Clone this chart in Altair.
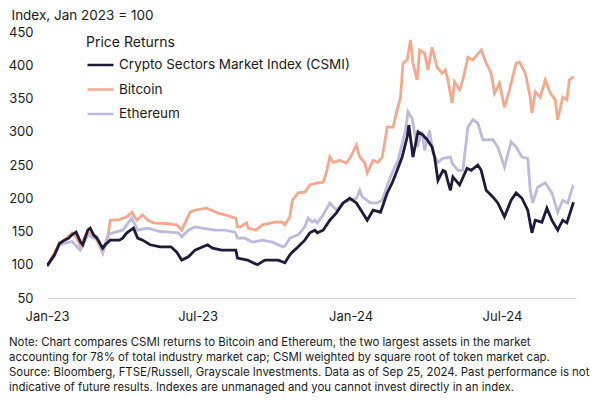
import altair as alt
import pandas as pd

# ---------------- data ----------------
csmi_dates = ["2023-01-01","2023-01-02","2023-01-10","2023-01-16","2023-01-22","2023-01-27","2023-01-31","2023-02-05",
    "2023-02-10","2023-02-13","2023-02-19","2023-02-22","2023-02-26","2023-03-02","2023-03-09","2023-03-12","2023-03-18",
    "2023-03-29","2023-04-02","2023-04-07","2023-04-15","2023-04-20","2023-04-26","2023-05-05","2023-05-17","2023-05-30",
    "2023-06-06","2023-06-12","2023-06-20","2023-06-28","2023-07-13","2023-07-19","2023-07-30","2023-08-11","2023-08-16",
    "2023-08-18","2023-08-30","2023-09-11","2023-09-20","2023-09-29","2023-10-06","2023-10-14","2023-10-20","2023-10-23",
    "2023-10-30","2023-11-07","2023-11-13","2023-11-19","2023-11-22","2023-11-29","2023-12-07","2023-12-15","2023-12-23",
    "2023-12-31","2024-01-08","2024-01-15","2024-01-21","2024-01-28","2024-02-06","2024-02-14","2024-02-20","2024-02-26",
    "2024-03-03","2024-03-09","2024-03-11","2024-03-16","2024-03-22","2024-03-28","2024-04-02","2024-04-08","2024-04-11",
    "2024-04-15","2024-04-21","2024-04-24","2024-04-27","2024-04-30","2024-05-03","2024-05-11","2024-05-20","2024-05-25",
    "2024-06-02","2024-06-06","2024-06-12","2024-06-20","2024-06-26","2024-07-04","2024-07-12","2024-07-18","2024-07-25",
    "2024-08-01","2024-08-06","2024-08-10","2024-08-18","2024-08-24","2024-08-30","2024-09-06","2024-09-12","2024-09-17",
    "2024-09-25"]
csmi_values = [100,100,115,132,137,140,145,149,
    135,130,152,155,145,140,125,130,137,
    137,140,148,155,140,137,130,127,127,
    119,107,112,122,130,125,122,122,122,
    110,107,100,107,107,107,103,115,119,
    127,137,148,152,148,152,167,178,193,
    200,193,179,167,182,179,208,223,242,
    262,292,310,262,300,295,288,277,262,
    227,242,240,225,212,232,220,245,242,
    250,242,212,202,193,172,197,208,200,
    182,148,167,164,185,167,152,167,163,
    194]

btc_dates = ["2023-01-01","2023-01-02","2023-01-10","2023-01-16","2023-01-22","2023-01-31","2023-02-05","2023-02-10",
    "2023-02-19","2023-03-02","2023-03-09","2023-03-15","2023-03-18","2023-03-29","2023-04-07","2023-04-13","2023-04-19",
    "2023-04-26","2023-05-02","2023-05-09","2023-05-23","2023-06-06","2023-06-12","2023-06-22","2023-06-28","2023-07-12",
    "2023-07-25","2023-08-03","2023-08-11","2023-08-16","2023-08-18","2023-08-21","2023-08-29","2023-08-31","2023-09-09",
    "2023-09-17","2023-10-02","2023-10-11","2023-10-14","2023-10-20","2023-10-23","2023-10-30","2023-11-07","2023-11-13",
    "2023-11-22","2023-11-29","2023-12-03","2023-12-07","2023-12-11","2023-12-19","2023-12-27","2023-12-31","2024-01-08",
    "2024-01-12","2024-01-18","2024-01-21","2024-01-28","2024-02-03","2024-02-08","2024-02-14","2024-02-21","2024-02-26",
    "2024-03-01","2024-03-04","2024-03-09","2024-03-13","2024-03-16","2024-03-21","2024-03-24","2024-03-30","2024-04-03",
    "2024-04-08","2024-04-14","2024-04-20","2024-04-24","2024-04-27","2024-05-02","2024-05-05","2024-05-11","2024-05-15",
    "2024-05-21","2024-05-27","2024-06-06","2024-06-12","2024-06-18","2024-06-22","2024-06-28","2024-07-04","2024-07-10",
    "2024-07-18","2024-07-22","2024-07-29","2024-08-04","2024-08-06","2024-08-10","2024-08-16","2024-08-22","2024-08-28",
    "2024-09-03","2024-09-06","2024-09-12","2024-09-17","2024-09-20","2024-09-25"]
btc_values = [100,100,118,133,137,148,142,128,
    150,137,118,140,167,168,172,179,167,
    175,167,163,162,160,152,179,182,185,
    178,175,172,170,157,157,163,155,152,
    160,164,164,160,172,197,208,209,220,
    223,224,239,262,254,257,253,260,280,
    262,253,238,257,254,262,307,307,333,
    352,403,408,438,403,378,423,418,393,
    427,397,388,393,378,343,375,363,378,
    412,408,423,403,388,358,373,337,363,
    403,405,388,352,328,360,352,378,358,
    348,318,352,348,378,383]

eth_dates = ["2023-01-01","2023-01-02","2023-01-10","2023-01-16","2023-01-22","2023-01-31","2023-02-10","2023-02-19",
    "2023-02-26","2023-03-02","2023-03-09","2023-03-15","2023-03-21","2023-04-02","2023-04-13","2023-04-20","2023-05-02",
    "2023-05-17","2023-05-29","2023-06-08","2023-06-12","2023-06-20","2023-06-28","2023-07-06","2023-07-22","2023-08-03",
    "2023-08-11","2023-08-15","2023-08-18","2023-08-27","2023-09-05","2023-09-17","2023-09-29","2023-10-11","2023-10-14",
    "2023-10-20","2023-10-30","2023-11-07","2023-11-11","2023-11-16","2023-11-19","2023-11-22","2023-11-29","2023-12-07",
    "2023-12-15","2023-12-23","2023-12-31","2024-01-08","2024-01-12","2024-01-15","2024-01-25","2024-02-02","2024-02-08",
    "2024-02-15","2024-02-20","2024-02-27","2024-03-07","2024-03-10","2024-03-15","2024-03-21","2024-03-27","2024-03-30",
    "2024-04-05","2024-04-09","2024-04-15","2024-04-21","2024-04-30","2024-05-02","2024-05-09","2024-05-15","2024-05-21",
    "2024-05-27","2024-06-02","2024-06-08","2024-06-20","2024-06-26","2024-07-04","2024-07-12","2024-07-18","2024-07-25",
    "2024-08-01","2024-08-04","2024-08-07","2024-08-13","2024-08-22","2024-08-30","2024-09-06","2024-09-12","2024-09-18",
    "2024-09-24","2024-09-25"]
eth_values = [100,100,113,130,132,135,122,145,
    140,142,118,145,148,152,170,152,155,
    150,149,148,142,152,157,155,152,152,
    150,149,140,140,134,137,134,127,128,
    140,145,157,170,164,167,163,175,193,
    182,193,197,200,212,202,193,193,197,
    223,238,257,302,330,320,277,300,272,
    302,268,254,260,262,253,242,242,307,
    318,313,288,288,277,247,285,277,262,
    260,212,193,217,223,208,179,197,193,
    217,215]

series_names = ["Crypto Sectors Market Index (CSMI)", "Bitcoin", "Ethereum"]
series_colors = ["#1e1a3b", "#f5a98c", "#bebadf"]
y_ticks = [50, 100, 150, 200, 250, 300, 350, 400, 450]

notes = [
    "Note: Chart compares CSMI returns to Bitcoin and Ethereum, the two largest assets in the market",
    "accounting for 78% of total industry market cap; CSMI weighted by square root of token market cap.",
    "Source: Bloomberg, FTSE/Russell, Grayscale Investments. Data as of Sep 25, 2024. Past performance is not",
    "indicative of future results. Indexes are unmanaged and you cannot invest directly in an index.",
]

# drawing order: Bitcoin bottom, Ethereum, CSMI on top
frames = [
    pd.DataFrame({"date": pd.to_datetime(btc_dates), "value": btc_values, "series": "Bitcoin"}),
    pd.DataFrame({"date": pd.to_datetime(eth_dates), "value": eth_values, "series": "Ethereum"}),
    pd.DataFrame({"date": pd.to_datetime(csmi_dates), "value": csmi_values,
                  "series": "Crypto Sectors Market Index (CSMI)"}),
]
df = pd.concat(frames, ignore_index=True)

FONT = "Inter"
TXT = "#1a1a1a"

lines = alt.Chart(df).mark_line(strokeWidth=2.8, interpolate="linear").encode(
    x=alt.X(
        "date:T",
        scale=alt.Scale(domain=[alt.DateTime(year=2023, month=1, date=1),
                                alt.DateTime(year=2024, month=9, date=28)]),
        axis=alt.Axis(
            values=[alt.DateTime(year=2023, month=1, date=1), alt.DateTime(year=2023, month=7, date=1),
                    alt.DateTime(year=2024, month=1, date=1), alt.DateTime(year=2024, month=7, date=1)],
            format="%b-%y", title=None, ticks=False, grid=False,
            domainColor="#d4d4d4", domainWidth=1, labelPadding=12,
            labelFontSize=13, labelFont=FONT, labelColor=TXT, labelFlush=False,
        ),
    ),
    y=alt.Y(
        "value:Q",
        scale=alt.Scale(domain=[50, 450], nice=False, zero=False),
        axis=alt.Axis(
            values=y_ticks, ticks=False, grid=False, domain=False,
            labelPadding=14, labelFontSize=13, labelFont=FONT, labelColor=TXT,
            title="Index, Jan 2023 = 100", titleAngle=0, titleAlign="left",
            titleBaseline="alphabetic", titleX=-36, titleY=-13,
            titleFontSize=13.5, titleFontWeight="normal", titleFont=FONT, titleColor=TXT,
        ),
    ),
    color=alt.Color(
        "series:N",
        scale=alt.Scale(domain=series_names, range=series_colors),
        legend=alt.Legend(
            title="Price Returns", orient="none", legendX=39, legendY=4,
            titleFontSize=14, titleFontWeight="normal", titleFont=FONT, titleColor=TXT,
            titlePadding=4, labelFontSize=13.5, labelFont=FONT, labelColor=TXT, labelLimit=0,
            symbolType="stroke", symbolSize=676, symbolStrokeWidth=2.5,
            labelOffset=4, clipHeight=22, rowPadding=2.5, padding=0,
        ),
    ),
)

note_text = alt.Chart(pd.DataFrame({"k": [0]})).mark_text(
    align="left", baseline="top", fontSize=11.4, font=FONT, color=TXT, lineHeight=15,
).encode(
    x=alt.value(-38),
    y=alt.value(305),
    text=alt.value(notes),
)

chart = alt.layer(lines, note_text).properties(
    width=529, height=266,
    autosize=alt.AutoSizeParams(type="none"),
    padding={"left": 39, "top": 24, "right": 16, "bottom": 100},
).configure_view(stroke=None)

chart.save("out.html", embed_options={"renderer": "svg", "actions": False})
